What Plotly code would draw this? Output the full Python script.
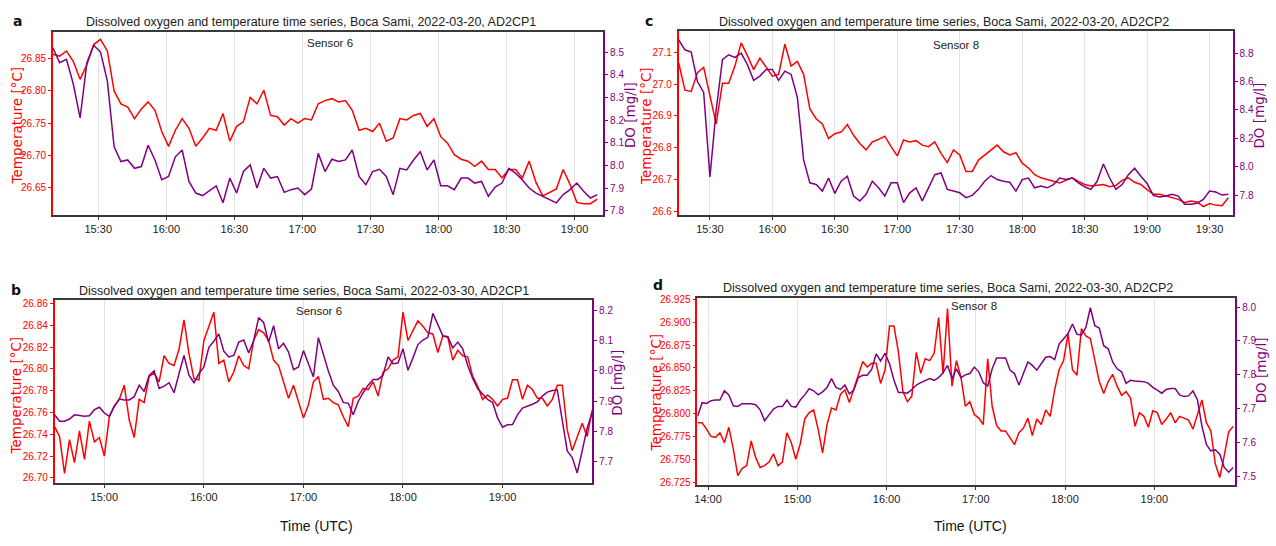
import pandas as pd
import plotly.graph_objects as go

W, H = 1276, 546

# ---------------- data (3-minute samples) ----------------
a_start = "2022-03-20 15:10"
a_temp = [26.857, 26.854, 26.862, 26.846, 26.818, 26.841, 26.872, 26.880, 26.862, 26.800,
          26.780, 26.775, 26.757, 26.772, 26.783, 26.770, 26.737, 26.714, 26.739, 26.757,
          26.742, 26.714, 26.727, 26.742, 26.739, 26.765, 26.722, 26.745, 26.752, 26.790,
          26.780, 26.801, 26.762, 26.760, 26.747, 26.757, 26.750, 26.757, 26.755, 26.780,
          26.785, 26.788, 26.783, 26.785, 26.770, 26.739, 26.742, 26.737, 26.750, 26.722,
          26.727, 26.757, 26.755, 26.762, 26.765, 26.745, 26.757, 26.729, 26.719, 26.701,
          26.694, 26.691, 26.683, 26.691, 26.678, 26.678, 26.665, 26.678, 26.678, 26.665,
          26.691, 26.658, 26.637, 26.642, 26.648, 26.678, 26.655, 26.627, 26.625, 26.625,
          26.632]
a_do = [8.519, 8.453, 8.468, 8.359, 8.21, 8.453, 8.53, 8.50, 8.373, 8.082,
        8.017, 8.024, 7.987, 7.995, 8.089, 8.024, 7.937, 7.951, 8.038, 8.068,
        7.929, 7.878, 7.867, 7.890, 7.910, 7.835, 7.944, 7.878, 7.973, 8.002,
        7.900, 7.987, 7.944, 7.951, 7.881, 7.893, 7.900, 7.871, 7.896, 8.053,
        7.973, 8.027, 8.017, 8.024, 8.068, 7.951, 7.915, 7.973, 7.983, 7.951,
        7.871, 7.987, 7.980, 8.024, 8.060, 7.980, 8.024, 7.910, 7.910, 7.893,
        7.944, 7.944, 7.922, 7.929, 7.864, 7.904, 7.922, 7.987, 7.966, 7.936,
        7.900, 7.878, 7.864, 7.849, 7.835, 7.871, 7.893, 7.922, 7.886, 7.856,
        7.871]

c_start = "2022-03-20 15:15"
c_temp = [27.067, 26.981, 26.977, 27.036, 27.053, 26.963, 26.875, 27.003, 27.003, 27.057,
          27.13, 27.09, 27.046, 27.082, 27.053, 27.025, 27.031, 27.126, 27.057, 27.072,
          27.031, 26.922, 26.891, 26.875, 26.829, 26.844, 26.849, 26.873, 26.839, 26.813,
          26.793, 26.818, 26.826, 26.836, 26.803, 26.774, 26.824, 26.818, 26.822, 26.808,
          26.803, 26.818, 26.782, 26.753, 26.793, 26.777, 26.725, 26.725, 26.761, 26.777,
          26.793, 26.808, 26.787, 26.777, 26.784, 26.751, 26.736, 26.715, 26.705, 26.699,
          26.694, 26.689, 26.697, 26.705, 26.694, 26.684, 26.679, 26.681, 26.684, 26.677,
          26.681, 26.697, 26.705, 26.691, 26.684, 26.668, 26.653, 26.653, 26.648, 26.642,
          26.637, 26.627, 26.632, 26.629, 26.614, 26.624, 26.619, 26.617, 26.642]
c_do = [8.892, 8.823, 8.807, 8.60, 8.523, 7.93, 8.40, 8.754, 8.788, 8.770,
        8.8, 8.719, 8.608, 8.638, 8.685, 8.685, 8.608, 8.673, 8.650, 8.488,
        8.049, 7.888, 7.876, 7.830, 7.922, 7.814, 7.899, 7.934, 7.795, 7.761,
        7.807, 7.899, 7.853, 7.795, 7.888, 7.888, 7.749, 7.818, 7.853, 7.761,
        7.853, 7.945, 7.957, 7.842, 7.830, 7.818, 7.784, 7.800, 7.842, 7.899,
        7.939, 7.911, 7.899, 7.892, 7.830, 7.911, 7.922, 7.853, 7.865, 7.853,
        7.876, 7.922, 7.911, 7.922, 7.888, 7.860, 7.842, 7.899, 8.02, 7.922,
        7.842, 7.876, 7.945, 7.991, 7.934, 7.883, 7.800, 7.788, 7.795, 7.807,
        7.795, 7.738, 7.738, 7.745, 7.772, 7.830, 7.823, 7.802, 7.807]

b_start = "2022-03-30 14:30"
b_temp = [26.747, 26.738, 26.704, 26.735, 26.714, 26.743, 26.717, 26.752, 26.733, 26.737,
          26.720, 26.756, 26.766, 26.772, 26.785, 26.753, 26.737, 26.772, 26.769, 26.793,
          26.796, 26.788, 26.812, 26.805, 26.803, 26.818, 26.845, 26.814, 26.791, 26.790,
          26.826, 26.840, 26.852, 26.805, 26.808, 26.788, 26.797, 26.812, 26.803, 26.800,
          26.826, 26.836, 26.833, 26.826, 26.808, 26.803, 26.788, 26.773, 26.785, 26.769,
          26.755, 26.767, 26.788, 26.793, 26.772, 26.773, 26.769, 26.767, 26.756, 26.747,
          26.773, 26.775, 26.782, 26.781, 26.788, 26.775, 26.797, 26.800, 26.808, 26.811,
          26.852, 26.826, 26.835, 26.844, 26.839, 26.833, 26.832, 26.815, 26.830, 26.829,
          26.808, 26.817, 26.812, 26.811, 26.793, 26.784, 26.772, 26.776, 26.772, 26.766,
          26.772, 26.773, 26.790, 26.790, 26.772, 26.785, 26.781, 26.773, 26.773, 26.766,
          26.772, 26.785, 26.785, 26.744, 26.725, 26.738, 26.750, 26.738, 26.762]
b_do = [7.855, 7.834, 7.834, 7.841, 7.855, 7.853, 7.850, 7.852, 7.872, 7.880,
        7.861, 7.850, 7.883, 7.907, 7.904, 7.904, 7.915, 7.953, 7.932, 7.985,
        8.000, 7.942, 7.950, 7.961, 7.928, 7.991, 8.051, 7.986, 7.961, 7.991,
        8.013, 8.078, 8.098, 8.122, 8.065, 8.046, 8.051, 8.095, 8.102, 8.059,
        8.100, 8.176, 8.160, 8.095, 8.149, 8.073, 8.091, 8.062, 8.004, 8.013,
        8.067, 8.024, 7.980, 8.110, 8.051, 8.000, 7.953, 7.932, 7.896, 7.893,
        7.855, 7.899, 7.928, 7.953, 7.972, 7.972, 7.986, 8.046, 8.024, 8.026,
        8.073, 8.002, 8.043, 8.087, 8.102, 8.111, 8.190, 8.154, 8.116, 8.113,
        8.076, 8.095, 8.073, 8.018, 7.975, 7.942, 7.924, 7.906, 7.896, 7.845,
        7.814, 7.822, 7.823, 7.855, 7.877, 7.883, 7.890, 7.898, 7.917, 7.930,
        7.935, 7.937, 7.839, 7.736, 7.714, 7.663, 7.736, 7.812, 7.861]

d_start = "2022-03-30 13:53"
d_temp = [26.790, 26.790, 26.783, 26.775, 26.774, 26.779, 26.768, 26.785, 26.761, 26.732,
          26.740, 26.743, 26.770, 26.752, 26.741, 26.743, 26.747, 26.756, 26.743, 26.747,
          26.779, 26.768, 26.750, 26.767, 26.794, 26.801, 26.804, 26.783, 26.757, 26.788,
          26.806, 26.804, 26.821, 26.826, 26.812, 26.828, 26.842, 26.857, 26.851, 26.855,
          26.855, 26.833, 26.848, 26.896, 26.896, 26.867, 26.824, 26.813, 26.819, 26.867,
          26.844, 26.860, 26.858, 26.866, 26.905, 26.844, 26.915, 26.830, 26.858, 26.840,
          26.808, 26.813, 26.799, 26.795, 26.788, 26.860, 26.808, 26.787, 26.781, 26.781,
          26.774, 26.766, 26.779, 26.784, 26.795, 26.776, 26.794, 26.788, 26.804, 26.797,
          26.826, 26.848, 26.858, 26.887, 26.848, 26.842, 26.893, 26.885, 26.882, 26.857,
          26.835, 26.822, 26.835, 26.843, 26.830, 26.820, 26.824, 26.817, 26.786, 26.801,
          26.797, 26.785, 26.803, 26.801, 26.788, 26.794, 26.801, 26.790, 26.797, 26.795,
          26.793, 26.783, 26.799, 26.815, 26.790, 26.781, 26.745, 26.730, 26.754, 26.780,
          26.786]
d_do = [7.678, 7.718, 7.716, 7.724, 7.726, 7.726, 7.753, 7.741, 7.709, 7.707,
        7.715, 7.715, 7.715, 7.712, 7.697, 7.665, 7.682, 7.699, 7.707, 7.707,
        7.726, 7.707, 7.705, 7.726, 7.741, 7.759, 7.753, 7.741, 7.750, 7.763,
        7.789, 7.763, 7.757, 7.770, 7.744, 7.755, 7.792, 7.799, 7.799, 7.816,
        7.862, 7.841, 7.864, 7.833, 7.784, 7.748, 7.748, 7.746, 7.757, 7.770,
        7.777, 7.782, 7.789, 7.784, 7.792, 7.806, 7.828, 7.789, 7.818, 7.792,
        7.800, 7.804, 7.823, 7.809, 7.777, 7.767, 7.818, 7.850, 7.850, 7.850,
        7.814, 7.804, 7.770, 7.802, 7.838, 7.828, 7.814, 7.833, 7.852, 7.854,
        7.845, 7.891, 7.906, 7.922, 7.950, 7.920, 7.918, 7.940, 7.998, 7.945,
        7.938, 7.886, 7.877, 7.838, 7.818, 7.809, 7.775, 7.784, 7.782, 7.782,
        7.780, 7.775, 7.763, 7.755, 7.746, 7.757, 7.760, 7.760, 7.741, 7.736,
        7.738, 7.753, 7.726, 7.649, 7.595, 7.576, 7.579, 7.566, 7.527, 7.513,
        7.527]

a_temp_ticks = [26.65, 26.70, 26.75, 26.80, 26.85]
a_do_ticks = [7.8, 7.9, 8.0, 8.1, 8.2, 8.3, 8.4, 8.5]
c_temp_ticks = [26.6, 26.7, 26.8, 26.9, 27.0, 27.1]
c_do_ticks = [7.8, 8.0, 8.2, 8.4, 8.6, 8.8]
b_temp_ticks = [26.70, 26.72, 26.74, 26.76, 26.78, 26.80, 26.82, 26.84, 26.86]
b_do_ticks = [7.7, 7.8, 7.9, 8.0, 8.1, 8.2]
d_temp_ticks = [26.725, 26.750, 26.775, 26.800, 26.825, 26.850, 26.875, 26.900, 26.925]
d_do_ticks = [7.5, 7.6, 7.7, 7.8, 7.9, 8.0]

titles = ["Dissolved oxygen and temperature time series, Boca Sami, 2022-03-20, AD2CP1",
          "Dissolved oxygen and temperature time series, Boca Sami, 2022-03-20, AD2CP2",
          "Dissolved oxygen and temperature time series, Boca Sami, 2022-03-30, AD2CP1",
          "Dissolved oxygen and temperature time series, Boca Sami, 2022-03-30, AD2CP2"]
letters = ["a", "c", "b", "d"]
sensors = ["Sensor 6", "Sensor 8", "Sensor 6", "Sensor 8"]

# ---------------- styling ----------------
RED = "#ff0000"
PURPLE = "#800080"
SANS = "Liberation Sans, Arial, sans-serif"
DEJAVU = "DejaVu Sans, sans-serif"

def fx(x):
    return x / W

def fy(y):
    return 1 - y / H

panels = [
    dict(start=a_start, temp=a_temp, do=a_do, box=(50, 601.7, 27, 213),
         xr=("2022-03-20 15:10", "2022-03-20 19:12:40"), dtick=30, tick0="2022-03-20 15:00",
         tr=(26.607, 26.892), tt=a_temp_ticks, tf=".2f", dr=(7.78, 8.59), dt=a_do_ticks,
         title=(309, 17), letter=(15, 16), sensor=(328, 38),
         ylt=(14, 122), yrt=(628, 112)),
    dict(start=c_start, temp=c_temp, do=c_do, box=(677.3, 1232.7, 26.5, 213),
         xr=("2022-03-20 15:15", "2022-03-20 19:41:10"), dtick=30, tick0="2022-03-20 15:00",
         tr=(26.587, 27.167), tt=c_temp_ticks, tf=".1f", dr=(7.66, 8.954), dt=c_do_ticks,
         title=(943, 17), letter=(648, 16), sensor=(955, 41),
         ylt=(645, 122), yrt=(1259, 112)),
    dict(start=b_start, temp=b_temp, do=b_do, box=(51.7, 590.7, 299.3, 484.3),
         xr=("2022-03-30 14:30", "2022-03-30 19:54:06"), dtick=60, tick0="2022-03-30 14:00",
         tr=(26.6952, 26.8627), tt=b_temp_ticks, tf=".2f", dr=(7.6296, 8.2326), dt=b_do_ticks,
         title=(302, 290), letter=(13, 289), sensor=(317, 310),
         ylt=(12.5, 395), yrt=(616, 383), xlab=(314, 528)),
    dict(start=d_start, temp=d_temp, do=d_do, box=(696, 1235.3, 297.3, 486.7),
         xr=("2022-03-30 13:52:50", "2022-03-30 19:54:30"), dtick=60, tick0="2022-03-30 13:00",
         tr=(26.7213, 26.926), tt=d_temp_ticks, tf=".3f", dr=(7.4738, 8.0254), dt=d_do_ticks,
         title=(947, 287), letter=(657, 284), sensor=(973, 305),
         ylt=(655, 392), yrt=(1261, 370), xlab=(970, 528)),
]

fig = go.Figure()
layout = dict(width=W, height=H, autosize=False, margin=dict(l=0, r=0, t=0, b=0),
              paper_bgcolor="white", plot_bgcolor="white", showlegend=False,
              font=dict(family=SANS, color="#222"))
annotations = []

for i, p in enumerate(panels):
    n = i + 1
    xa = "x" if n == 1 else f"x{n}"
    yl_id = 2 * n - 1
    yr_id = 2 * n
    yl = "y" if yl_id == 1 else f"y{yl_id}"
    yr = f"y{yr_id}"
    times = pd.date_range(p["start"], periods=len(p["temp"]), freq="3min")
    fig.add_trace(go.Scatter(x=times, y=p["temp"], mode="lines", xaxis=xa, yaxis=yl,
                             line=dict(color=RED, width=1.5)))
    fig.add_trace(go.Scatter(x=times, y=p["do"], mode="lines", xaxis=xa, yaxis=yr,
                             line=dict(color=PURPLE, width=1.5)))
    x0, x1, y0, y1 = p["box"]
    xkey = "xaxis" if n == 1 else f"xaxis{n}"
    ylkey = "yaxis" if yl_id == 1 else f"yaxis{yl_id}"
    yrkey = f"yaxis{yr_id}"
    layout[xkey] = dict(domain=[fx(x0), fx(x1)], anchor=yl, type="date",
                        range=list(p["xr"]), tick0=p["tick0"], dtick=p["dtick"] * 60000,
                        tickformat="%H:%M", showgrid=True, gridcolor="#e2e2e2", gridwidth=1,
                        showline=True, mirror=True, linecolor="#3a3a3a", linewidth=1.6,
                        ticks="outside", ticklen=3, tickcolor="#3a3a3a", zeroline=False,
                        tickfont=dict(family=SANS, size=11, color="#222"))
    layout[ylkey] = dict(domain=[fy(y1), fy(y0)], anchor=xa, range=list(p["tr"]),
                         tickvals=p["tt"], tickformat=p["tf"], showgrid=False, zeroline=False,
                         showline=True, linecolor=RED, linewidth=1.6, ticks="outside",
                         ticklen=3, tickcolor=RED,
                         tickfont=dict(family=SANS, size=10, color=RED))
    layout[yrkey] = dict(domain=[fy(y1), fy(y0)], anchor=xa, overlaying=yl, side="right",
                         range=list(p["dr"]), tickvals=p["dt"], tickformat=".1f",
                         showgrid=False, zeroline=False, showline=True, linecolor=PURPLE,
                         linewidth=1.6, ticks="outside", ticklen=3, tickcolor=PURPLE,
                         tickfont=dict(family=SANS, size=10, color=PURPLE))
    annotations.append(dict(text=titles[i], x=fx(p["title"][0]), y=fy(p["title"][1]),
                            xref="paper", yref="paper", showarrow=False, xanchor="center",
                            yanchor="middle", font=dict(family=SANS, size=12.5, color="#222")))
    annotations.append(dict(text=f"<b>{letters[i]}</b>", x=fx(p["letter"][0]), y=fy(p["letter"][1]),
                            xref="paper", yref="paper", showarrow=False, xanchor="center",
                            yanchor="middle", font=dict(family=DEJAVU, size=14, color="#111")))
    annotations.append(dict(text=sensors[i], x=fx(p["sensor"][0]), y=fy(p["sensor"][1]),
                            xref="paper", yref="paper", showarrow=False, xanchor="center",
                            yanchor="middle", font=dict(family=SANS, size=11.5, color="#222")))
    annotations.append(dict(text="Temperature [°C]", x=fx(p["ylt"][0]), y=fy(p["ylt"][1]),
                            xref="paper", yref="paper", showarrow=False, textangle=-90,
                            xanchor="center", yanchor="middle",
                            font=dict(family=DEJAVU, size=13.5, color=RED)))
    annotations.append(dict(text="DO [mg/l]", x=fx(p["yrt"][0]), y=fy(p["yrt"][1]),
                            xref="paper", yref="paper", showarrow=False, textangle=-90,
                            xanchor="center", yanchor="middle",
                            font=dict(family=DEJAVU, size=13.5, color=PURPLE)))
    if "xlab" in p:
        annotations.append(dict(text="Time (UTC)", x=fx(p["xlab"][0]), y=fy(p["xlab"][1]),
                                xref="paper", yref="paper", showarrow=False, xanchor="center",
                                yanchor="middle", font=dict(family=SANS, size=14, color="#111")))

layout["annotations"] = annotations
fig.update_layout(**layout)
fig.write_html("out.html")
